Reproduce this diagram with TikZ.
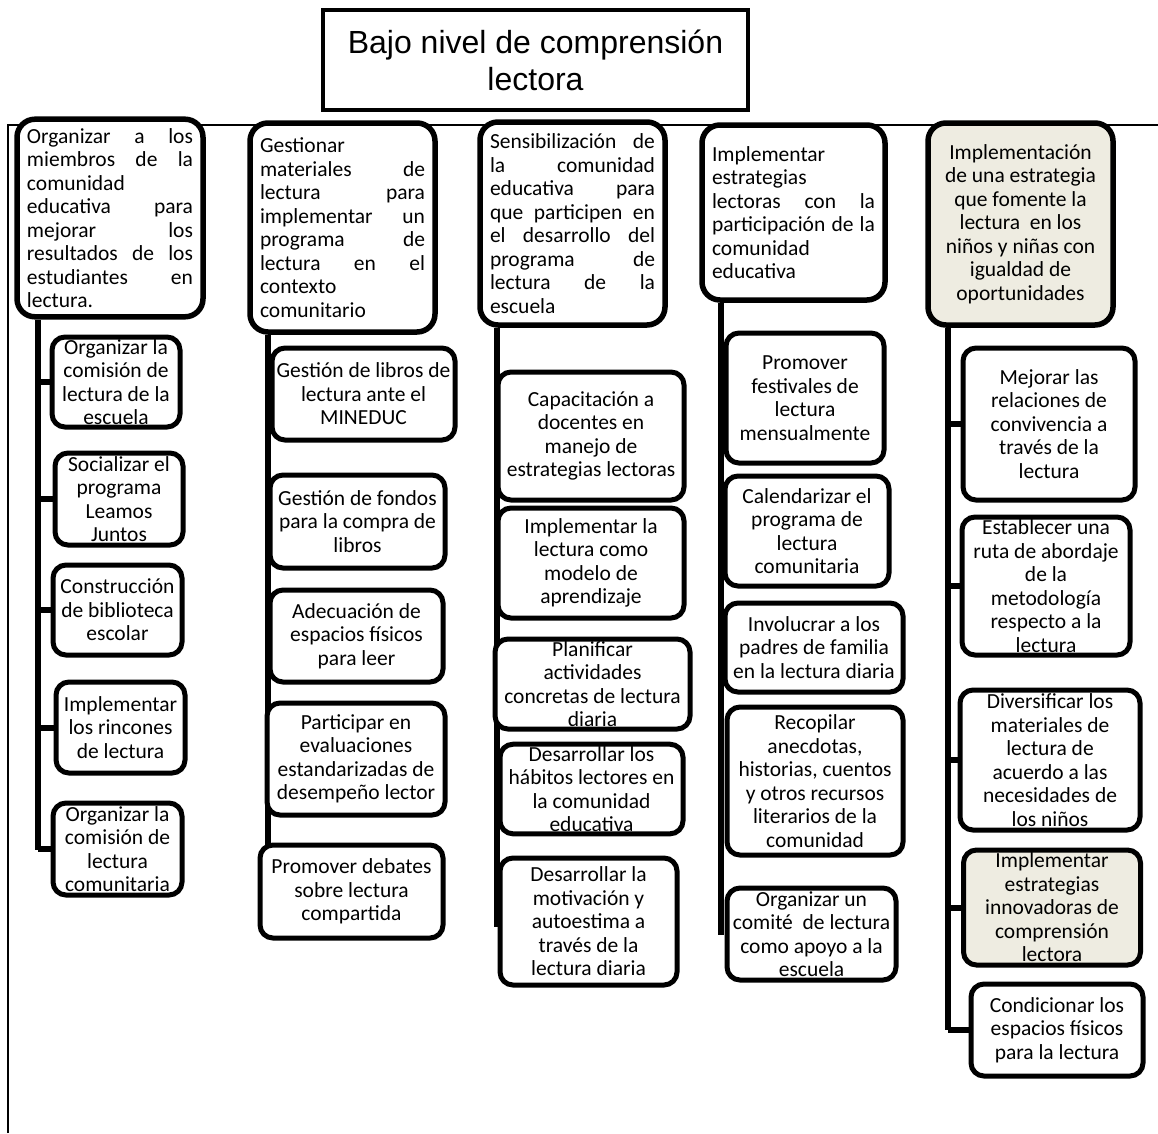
\documentclass[tikz,border=0pt]{standalone}
\usepackage{fontspec}
\setmainfont{Carlito}
\newfontfamily\titlefont{Liberation Sans}
\usepackage{xcolor}
\usepackage{tikz}
\usetikzlibrary{backgrounds}
\definecolor{beige}{HTML}{EEECE1}
\tolerance=10000
\hbadness=10000
\tikzset{
  caja/.style={draw, line width=5pt, rounded corners=13pt, fill=white,
    align=center, inner sep=2pt, font=\fontsize{21.5}{23.5}\selectfont},
  cabeza/.style={caja, line width=5.5pt, rounded corners=18pt, inner sep=9pt},
  titulo/.style={draw, line width=4pt, fill=white, align=center,
    font=\titlefont\fontsize{32}{37}\selectfont},
  tronco/.style={line width=6pt},
  marco/.style={line width=1.5pt},
}
\begin{document}
\begin{tikzpicture}[x=1pt, y=-1pt]
\useasboundingbox (0,0) rectangle (1158,1133);

% problema
\node[titulo, minimum width=425, minimum height=100] (titulo) at (535.5,60)
    {Bajo nivel de comprensión\\lectora};

% cabezas de columna
\node[cabeza, minimum width=186, minimum height=190, text width=166pt, align=justify] (h1) at (110,218)
    {Organizar a los\linebreak miembros de la\linebreak comunidad\linebreak educativa para\linebreak mejorar los\linebreak resultados de los\linebreak estudiantes en\linebreak lectura.};
\node[cabeza, minimum width=185, minimum height=209, text width=165pt, align=justify] (h2) at (342.5,227.5)
    {Gestionar\linebreak materiales de\linebreak lectura para\linebreak implementar un\linebreak programa de\linebreak lectura en el\linebreak contexto\linebreak comunitario};
\node[cabeza, minimum width=185, minimum height=203, text width=165pt, align=justify] (h3) at (572.5,223.5)
    {Sensibilización de\linebreak la comunidad\linebreak educativa para\linebreak que participen en\linebreak el desarrollo del\linebreak programa de\linebreak lectura de la\linebreak escuela};
\node[cabeza, minimum width=183, minimum height=175, text width=163pt, align=justify] (h4) at (793.5,212.5)
    {Implementar\linebreak estrategias\linebreak lectoras con la\linebreak participación de la\linebreak comunidad\linebreak educativa};
\node[cabeza, fill=beige, minimum width=185, minimum height=202] (h5) at (1020.5,224)
    {Implementación\\de una estrategia\\que fomente la\\lectura~~en los\\niños y niñas con\\igualdad de\\oportunidades};

% columna 1
\node[caja, minimum width=128, minimum height=90] (c1a) at (116,382)
    {Organizar la\\comisión de\\lectura de la\\escuela};
\node[caja, minimum width=128, minimum height=92] (c1b) at (119,499)
    {Socializar el\\programa\\Leamos\\Juntos};
\node[caja, minimum width=129, minimum height=90] (c1c) at (117.5,610)
    {Construcción\\de biblioteca\\escolar};
\node[caja, minimum width=129, minimum height=91] (c1d) at (120.5,727.5)
    {Implementar\\los rincones\\de lectura};
\node[caja, minimum width=129, minimum height=92] (c1e) at (117.5,849)
    {Organizar la\\comisión de\\lectura\\comunitaria};

% columna 2
\node[caja, minimum width=183, minimum height=92] (c2a) at (363.5,394)
    {Gestión de libros de\\lectura ante el\\MINEDUC};
\node[caja, minimum width=175, minimum height=93] (c2b) at (357.5,521.5)
    {Gestión de fondos\\para la compra de\\libros};
\node[caja, minimum width=173, minimum height=92] (c2c) at (356.5,636)
    {Adecuación de\\espacios físicos\\para leer};
\node[caja, minimum width=178, minimum height=112] (c2d) at (356,759)
    {Participar en\\evaluaciones\\estandarizadas de\\desempeño lector};
\node[caja, minimum width=183, minimum height=93] (c2e) at (351.5,891.5)
    {Promover debates\\sobre lectura\\compartida};

% columna 3
\node[caja, minimum width=186, minimum height=128] (c3a) at (591,436)
    {Capacitación a\\docentes en\\manejo de\\estrategias lectoras};
\node[caja, minimum width=186, minimum height=110] (c3b) at (591,563)
    {Implementar la\\lectura como\\modelo de\\aprendizaje};
\node[caja, minimum width=195, minimum height=90] (c3c) at (592.5,684)
    {Planificar\\actividades\\concretas de lectura\\diaria};
\node[caja, minimum width=183, minimum height=88] (c3d) at (591.5,789)
    {Desarrollar los\\hábitos lectores en\\la comunidad\\educativa};
\node[caja, minimum width=177, minimum height=127] (c3e) at (588.5,921.5)
    {Desarrollar la\\motivación y\\autoestima a\\través de la\\lectura diaria};

% columna 4
\node[caja, minimum width=158, minimum height=130] (c4a) at (805,398)
    {Promover\\festivales de\\lectura\\mensualmente};
\node[caja, minimum width=164, minimum height=110] (c4b) at (807,531)
    {Calendarizar el\\programa de\\lectura\\comunitaria};
\node[caja, minimum width=178, minimum height=89] (c4c) at (814,647.5)
    {Involucrar a los\\padres de familia\\en la lectura diaria};
\node[caja, minimum width=176, minimum height=148] (c4d) at (815,781)
    {Recopilar\\anecdotas,\\historias, cuentos\\y otros recursos\\literarios de la\\comunidad};
\node[caja, minimum width=169, minimum height=92] (c4e) at (811.5,934)
    {Organizar un\\comité~~de lectura\\como apoyo a la\\escuela};

% columna 5
\node[caja, minimum width=172, minimum height=152] (c5a) at (1049,424)
    {Mejorar las\\relaciones de\\convivencia a\\través de la\\lectura};
\node[caja, minimum width=168, minimum height=138] (c5b) at (1046,586)
    {Establecer una\\ruta de abordaje\\de la\\metodología\\respecto a la\\lectura};
\node[caja, minimum width=180, minimum height=140] (c5c) at (1050,760)
    {Diversificar los\\materiales de\\lectura de\\acuerdo a las\\necesidades de\\los niños};
\node[caja, fill=beige, minimum width=177, minimum height=115] (c5d) at (1052,907.5)
    {Implementar\\estrategias\\innovadoras de\\comprensión\\lectora};
\node[caja, minimum width=172, minimum height=92] (c5e) at (1057,1030)
    {Condicionar los\\espacios físicos\\para la lectura};

% extremos de los troncos
\coordinate (t1) at (38,850);
\coordinate (t2) at (268,848);
\coordinate (t3) at (497,927);
\coordinate (t4) at (721,935);
\coordinate (t5) at (948,1030);
\coordinate (m1) at (8,1133);
\coordinate (m2) at (8,125);
\coordinate (m3) at (1158,125);

\begin{pgfonlayer}{background}
\draw[marco] (m1) -- (m2) -- (m3);
\draw[tronco] (h1.south -| t1) -- (t1);
\draw[tronco] (h2.south -| t2) -- (t2);
\draw[tronco] (h3.south -| t3) -- (t3);
\draw[tronco] (h4.south -| t4) -- (t4);
\draw[tronco] (h5.south -| t5) -- (t5);
\foreach \k in {a,b,c,d,e} {
  \draw[tronco] (c1\k.west -| t1) -- (c1\k.west);
  \draw[tronco] (c5\k.west -| t5) -- (c5\k.west);
}
\end{pgfonlayer}
\end{tikzpicture}
\end{document}
